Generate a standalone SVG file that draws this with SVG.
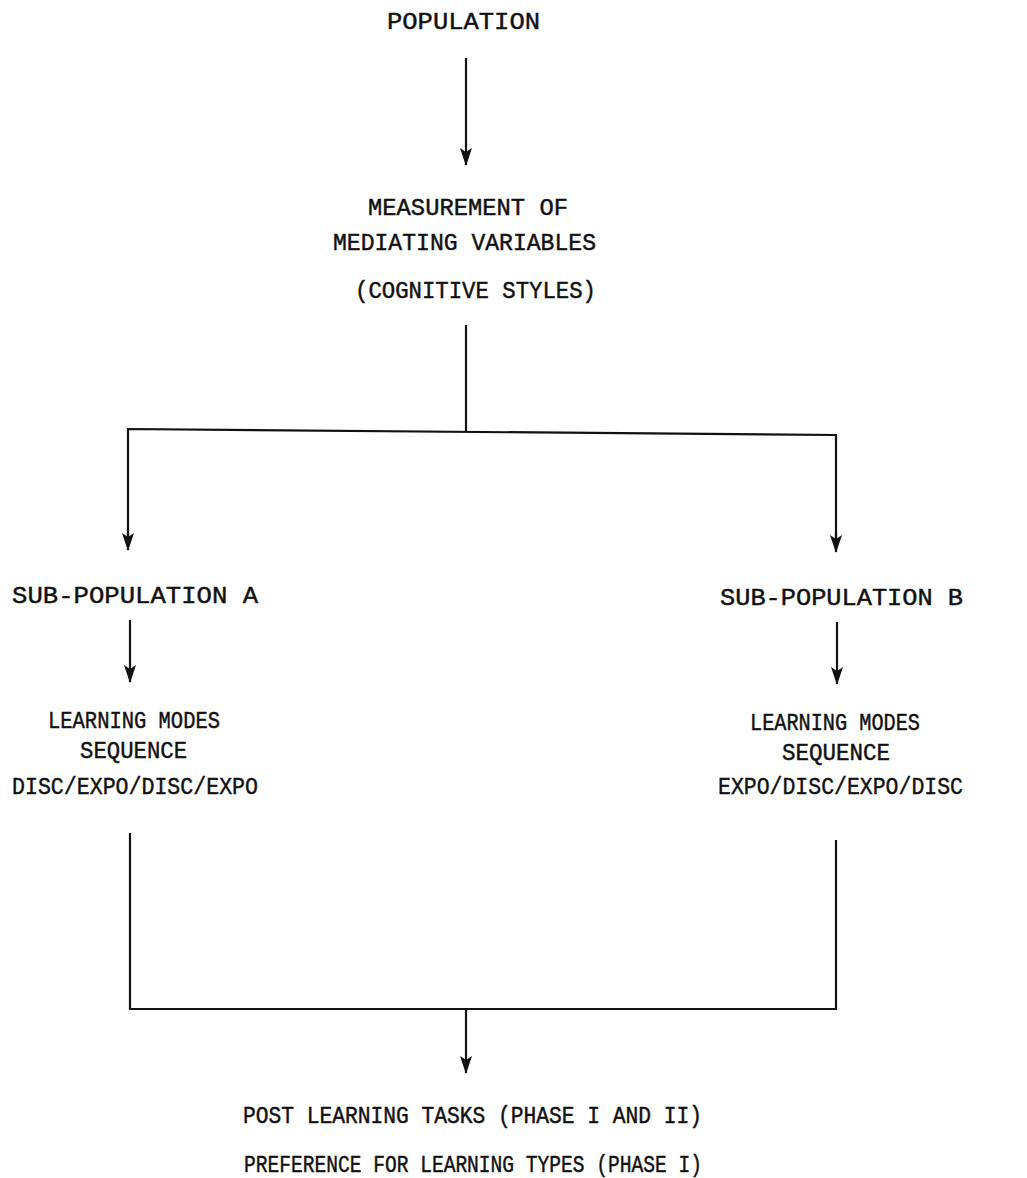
<svg xmlns="http://www.w3.org/2000/svg" width="1027" height="1178" viewBox="0 0 1027 1178">
<style>
text{font-family:"Liberation Mono","Courier New",monospace;font-size:24px;fill:#111;text-anchor:middle;stroke:#111;stroke-width:0.45}
.c{stroke:#111;stroke-width:2.2;fill:none}
</style>
<defs>
<marker id="ah" markerUnits="userSpaceOnUse" markerWidth="18" markerHeight="12" refX="17" refY="6" orient="auto" viewBox="0 0 18 12">
<path d="M0,0 L4,6 L0,12 L18,6 Z" fill="#111"/>
</marker>
</defs>
<rect width="1027" height="1178" fill="#fff"/>
<g id="connectors">
<line class="c" x1="466" y1="58" x2="466" y2="165" marker-end="url(#ah)"/>
<line class="c" x1="466" y1="325" x2="466" y2="431"/>
<polyline class="c" points="128,540 128,429 836,435 836,542"/>
<line class="c" x1="128" y1="530" x2="128" y2="550" marker-end="url(#ah)"/>
<line class="c" x1="836" y1="532" x2="836" y2="552" marker-end="url(#ah)"/>
<line class="c" x1="130" y1="620" x2="130" y2="682" marker-end="url(#ah)"/>
<line class="c" x1="837" y1="622" x2="837" y2="684" marker-end="url(#ah)"/>
<polyline class="c" points="130,833 130,1009 836,1009 836,840"/>
<line class="c" x1="466" y1="1009" x2="466" y2="1073" marker-end="url(#ah)"/>
</g>
<g id="population"><text x="463.5" y="29" textLength="153" lengthAdjust="spacingAndGlyphs">POPULATION</text></g>
<g id="measurement">
<text x="468" y="215" textLength="200" lengthAdjust="spacingAndGlyphs">MEASUREMENT OF</text>
<text x="464.5" y="250" textLength="263" lengthAdjust="spacingAndGlyphs">MEDIATING VARIABLES</text>
<text x="475.5" y="298" textLength="241" lengthAdjust="spacingAndGlyphs">(COGNITIVE STYLES)</text>
</g>
<g id="subpop-a"><text x="135" y="603" textLength="246" lengthAdjust="spacingAndGlyphs">SUB-POPULATION A</text></g>
<g id="subpop-b"><text x="841.5" y="605" textLength="243" lengthAdjust="spacingAndGlyphs">SUB-POPULATION B</text></g>
<g id="modes-a">
<text x="134" y="728" textLength="172" lengthAdjust="spacingAndGlyphs">LEARNING MODES</text>
<text x="133.5" y="758" textLength="107" lengthAdjust="spacingAndGlyphs">SEQUENCE</text>
<text x="135" y="794" textLength="246" lengthAdjust="spacingAndGlyphs">DISC/EXPO/DISC/EXPO</text>
</g>
<g id="modes-b">
<text x="835" y="730" textLength="170" lengthAdjust="spacingAndGlyphs">LEARNING MODES</text>
<text x="836" y="760" textLength="108" lengthAdjust="spacingAndGlyphs">SEQUENCE</text>
<text x="840.5" y="794" textLength="245" lengthAdjust="spacingAndGlyphs">EXPO/DISC/EXPO/DISC</text>
</g>
<g id="outcomes">
<text x="472.5" y="1123" textLength="459" lengthAdjust="spacingAndGlyphs">POST LEARNING TASKS (PHASE I AND II)</text>
<text x="473" y="1172" textLength="458" lengthAdjust="spacingAndGlyphs">PREFERENCE FOR LEARNING TYPES (PHASE I)</text>
</g>
</svg>
